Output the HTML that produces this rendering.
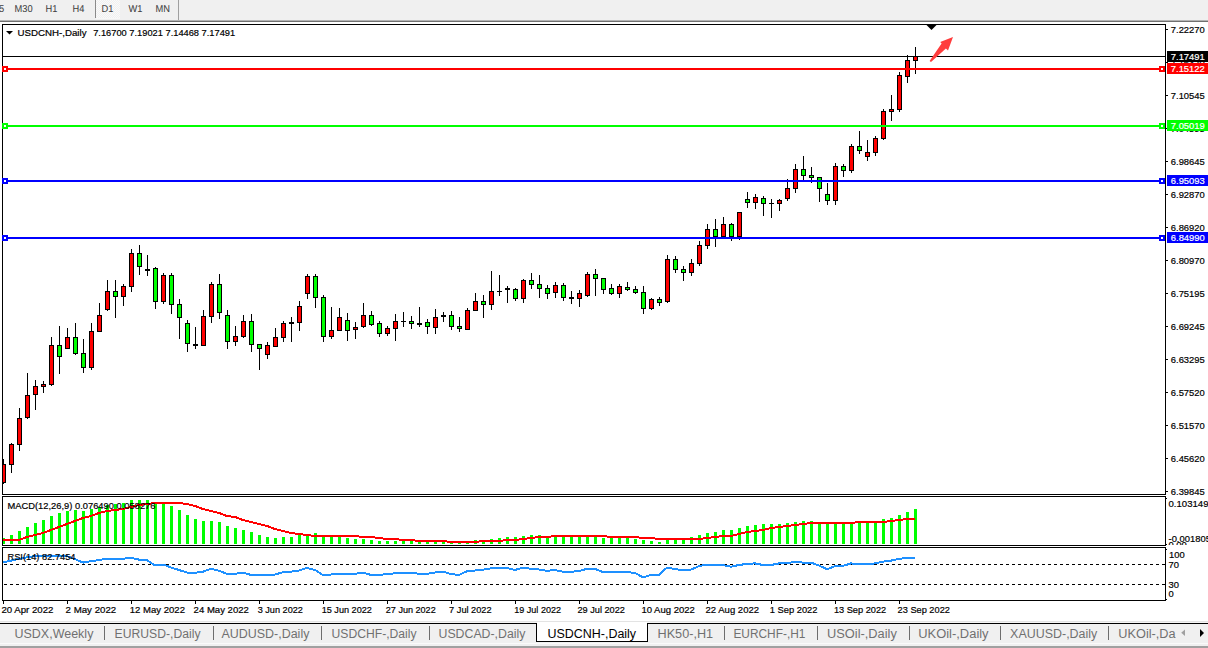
<!DOCTYPE html><html><head><meta charset="utf-8"><title>USDCNH-,Daily</title><style>
html,body{margin:0;padding:0;background:#fff;}
body{width:1208px;height:648px;overflow:hidden;position:relative;font-family:"Liberation Sans", sans-serif;}
svg{position:absolute;left:0;top:0;display:block;}
.t{font-family:"Liberation Sans", sans-serif;}
</style></head><body>
<svg width="1208" height="648" viewBox="0 0 1208 648">
<defs><pattern id="chk" width="2" height="2" patternUnits="userSpaceOnUse"><rect width="2" height="2" fill="#f0f0f0"/><rect width="1" height="1" fill="#fafafa"/><rect x="1" y="1" width="1" height="1" fill="#fafafa"/></pattern>
<clipPath id="cMain"><rect x="3" y="25" width="1162" height="469"/></clipPath>
<clipPath id="cMacd"><rect x="3" y="497" width="1162" height="47"/></clipPath>
<clipPath id="cRsi"><rect x="3" y="548" width="1162" height="52"/></clipPath>
</defs>
<rect x="0" y="0" width="1208" height="648" fill="#ffffff"/>
<g shape-rendering="crispEdges">
<rect x="0" y="0" width="1208" height="20" fill="#f0f0f0"/>
<rect x="96" y="0" width="24" height="18" fill="url(#chk)"/>
<rect x="96" y="18" width="24" height="1" fill="#f8f8f8"/>
<rect x="95" y="0" width="1" height="18" fill="#8a8a8a"/>
<rect x="178" y="0" width="1" height="20" fill="#a0a0a0"/>
<rect x="0" y="20" width="1208" height="1" fill="#b4b4b4"/>
<rect x="0" y="21" width="1208" height="1" fill="#707070"/>
</g>
<text class="t" x="-1.0" y="12.0" font-size="10" fill="#404040" text-rendering="geometricPrecision" stroke="#404040" stroke-width="0.05" textLength="5.17" lengthAdjust="spacingAndGlyphs">5</text>
<text class="t" x="14.5" y="12.0" font-size="10" fill="#404040" text-rendering="geometricPrecision" stroke="#404040" stroke-width="0.05" textLength="18.09" lengthAdjust="spacingAndGlyphs">M30</text>
<text class="t" x="45.5" y="12.0" font-size="10" fill="#404040" text-rendering="geometricPrecision" stroke="#404040" stroke-width="0.05" textLength="11.89" lengthAdjust="spacingAndGlyphs">H1</text>
<text class="t" x="72.5" y="12.0" font-size="10" fill="#404040" text-rendering="geometricPrecision" stroke="#404040" stroke-width="0.05" textLength="11.89" lengthAdjust="spacingAndGlyphs">H4</text>
<text class="t" x="101.5" y="12.0" font-size="10" fill="#404040" text-rendering="geometricPrecision" stroke="#404040" stroke-width="0.05" textLength="11.89" lengthAdjust="spacingAndGlyphs">D1</text>
<text class="t" x="128.5" y="12.0" font-size="10" fill="#404040" text-rendering="geometricPrecision" stroke="#404040" stroke-width="0.05" textLength="13.95" lengthAdjust="spacingAndGlyphs">W1</text>
<text class="t" x="155.5" y="12.0" font-size="10" fill="#404040" text-rendering="geometricPrecision" stroke="#404040" stroke-width="0.05" textLength="14.46" lengthAdjust="spacingAndGlyphs">MN</text>
<g shape-rendering="crispEdges">
<rect x="2.5" y="24.5" width="1163" height="470" fill="none" stroke="#000" stroke-width="1"/>
<rect x="2.5" y="496.5" width="1163" height="49" fill="none" stroke="#000" stroke-width="1"/>
<rect x="2.5" y="547.5" width="1163" height="53" fill="none" stroke="#000" stroke-width="1"/>
</g>
<g clip-path="url(#cMain)" shape-rendering="crispEdges">
<rect x="3" y="459" width="1" height="25" fill="#000"/>
<rect x="1" y="464" width="5" height="19" fill="#000"/>
<rect x="2" y="465" width="3" height="17" fill="#ff0000"/>
<rect x="11" y="443" width="1" height="30" fill="#000"/>
<rect x="9" y="444" width="5" height="21" fill="#000"/>
<rect x="10" y="445" width="3" height="19" fill="#ff0000"/>
<rect x="19" y="408" width="1" height="43" fill="#000"/>
<rect x="17" y="418" width="5" height="27" fill="#000"/>
<rect x="18" y="419" width="3" height="25" fill="#ff0000"/>
<rect x="27" y="373" width="1" height="46" fill="#000"/>
<rect x="25" y="395" width="5" height="23" fill="#000"/>
<rect x="26" y="396" width="3" height="21" fill="#ff0000"/>
<rect x="35" y="380" width="1" height="30" fill="#000"/>
<rect x="33" y="386" width="5" height="9" fill="#000"/>
<rect x="34" y="387" width="3" height="7" fill="#ff0000"/>
<rect x="43" y="381" width="1" height="12" fill="#000"/>
<rect x="41" y="384" width="5" height="3" fill="#000"/>
<rect x="42" y="385" width="3" height="1" fill="#ff0000"/>
<rect x="51" y="337" width="1" height="49" fill="#000"/>
<rect x="49" y="345" width="5" height="40" fill="#000"/>
<rect x="50" y="346" width="3" height="38" fill="#ff0000"/>
<rect x="59" y="326" width="1" height="48" fill="#000"/>
<rect x="57" y="345" width="5" height="12" fill="#000"/>
<rect x="58" y="346" width="3" height="10" fill="#00ff00"/>
<rect x="67" y="328" width="1" height="21" fill="#000"/>
<rect x="65" y="337" width="5" height="12" fill="#000"/>
<rect x="66" y="338" width="3" height="10" fill="#ff0000"/>
<rect x="75" y="323" width="1" height="32" fill="#000"/>
<rect x="73" y="337" width="5" height="17" fill="#000"/>
<rect x="74" y="338" width="3" height="15" fill="#00ff00"/>
<rect x="83" y="339" width="1" height="34" fill="#000"/>
<rect x="81" y="353" width="5" height="15" fill="#000"/>
<rect x="82" y="354" width="3" height="13" fill="#00ff00"/>
<rect x="91" y="323" width="1" height="47" fill="#000"/>
<rect x="89" y="331" width="5" height="37" fill="#000"/>
<rect x="90" y="332" width="3" height="35" fill="#ff0000"/>
<rect x="99" y="303" width="1" height="29" fill="#000"/>
<rect x="97" y="315" width="5" height="17" fill="#000"/>
<rect x="98" y="316" width="3" height="15" fill="#ff0000"/>
<rect x="107" y="280" width="1" height="31" fill="#000"/>
<rect x="105" y="291" width="5" height="19" fill="#000"/>
<rect x="106" y="292" width="3" height="17" fill="#ff0000"/>
<rect x="115" y="280" width="1" height="38" fill="#000"/>
<rect x="113" y="291" width="5" height="6" fill="#000"/>
<rect x="114" y="292" width="3" height="4" fill="#00ff00"/>
<rect x="123" y="284" width="1" height="22" fill="#000"/>
<rect x="121" y="286" width="5" height="11" fill="#000"/>
<rect x="122" y="287" width="3" height="9" fill="#ff0000"/>
<rect x="131" y="249" width="1" height="43" fill="#000"/>
<rect x="129" y="253" width="5" height="34" fill="#000"/>
<rect x="130" y="254" width="3" height="32" fill="#ff0000"/>
<rect x="139" y="245" width="1" height="30" fill="#000"/>
<rect x="137" y="253" width="5" height="14" fill="#000"/>
<rect x="138" y="254" width="3" height="12" fill="#00ff00"/>
<rect x="147" y="255" width="1" height="21" fill="#000"/>
<rect x="145" y="269" width="5" height="2" fill="#000"/>
<rect x="155" y="267" width="1" height="42" fill="#000"/>
<rect x="153" y="268" width="5" height="34" fill="#000"/>
<rect x="154" y="269" width="3" height="32" fill="#00ff00"/>
<rect x="163" y="273" width="1" height="31" fill="#000"/>
<rect x="161" y="275" width="5" height="27" fill="#000"/>
<rect x="162" y="276" width="3" height="25" fill="#ff0000"/>
<rect x="171" y="273" width="1" height="41" fill="#000"/>
<rect x="169" y="275" width="5" height="30" fill="#000"/>
<rect x="170" y="276" width="3" height="28" fill="#00ff00"/>
<rect x="179" y="299" width="1" height="40" fill="#000"/>
<rect x="177" y="304" width="5" height="14" fill="#000"/>
<rect x="178" y="305" width="3" height="12" fill="#00ff00"/>
<rect x="187" y="320" width="1" height="32" fill="#000"/>
<rect x="185" y="323" width="5" height="21" fill="#000"/>
<rect x="186" y="324" width="3" height="19" fill="#00ff00"/>
<rect x="195" y="327" width="1" height="22" fill="#000"/>
<rect x="193" y="344" width="5" height="2" fill="#000"/>
<rect x="203" y="310" width="1" height="36" fill="#000"/>
<rect x="201" y="316" width="5" height="30" fill="#000"/>
<rect x="202" y="317" width="3" height="28" fill="#ff0000"/>
<rect x="211" y="282" width="1" height="41" fill="#000"/>
<rect x="209" y="284" width="5" height="33" fill="#000"/>
<rect x="210" y="285" width="3" height="31" fill="#ff0000"/>
<rect x="219" y="274" width="1" height="45" fill="#000"/>
<rect x="217" y="284" width="5" height="29" fill="#000"/>
<rect x="218" y="285" width="3" height="27" fill="#00ff00"/>
<rect x="227" y="310" width="1" height="39" fill="#000"/>
<rect x="225" y="315" width="5" height="27" fill="#000"/>
<rect x="226" y="316" width="3" height="25" fill="#00ff00"/>
<rect x="235" y="326" width="1" height="20" fill="#000"/>
<rect x="233" y="336" width="5" height="6" fill="#000"/>
<rect x="234" y="337" width="3" height="4" fill="#ff0000"/>
<rect x="243" y="315" width="1" height="23" fill="#000"/>
<rect x="241" y="321" width="5" height="16" fill="#000"/>
<rect x="242" y="322" width="3" height="14" fill="#ff0000"/>
<rect x="251" y="314" width="1" height="38" fill="#000"/>
<rect x="249" y="321" width="5" height="24" fill="#000"/>
<rect x="250" y="322" width="3" height="22" fill="#00ff00"/>
<rect x="259" y="344" width="1" height="26" fill="#000"/>
<rect x="257" y="344" width="5" height="5" fill="#000"/>
<rect x="258" y="345" width="3" height="3" fill="#00ff00"/>
<rect x="267" y="342" width="1" height="17" fill="#000"/>
<rect x="265" y="345" width="5" height="10" fill="#000"/>
<rect x="266" y="346" width="3" height="8" fill="#ff0000"/>
<rect x="275" y="328" width="1" height="19" fill="#000"/>
<rect x="273" y="337" width="5" height="10" fill="#000"/>
<rect x="274" y="338" width="3" height="8" fill="#ff0000"/>
<rect x="283" y="321" width="1" height="21" fill="#000"/>
<rect x="281" y="323" width="5" height="15" fill="#000"/>
<rect x="282" y="324" width="3" height="13" fill="#ff0000"/>
<rect x="291" y="317" width="1" height="25" fill="#000"/>
<rect x="289" y="322" width="5" height="2" fill="#000"/>
<rect x="299" y="301" width="1" height="30" fill="#000"/>
<rect x="297" y="306" width="5" height="17" fill="#000"/>
<rect x="298" y="307" width="3" height="15" fill="#ff0000"/>
<rect x="307" y="274" width="1" height="25" fill="#000"/>
<rect x="305" y="276" width="5" height="18" fill="#000"/>
<rect x="306" y="277" width="3" height="16" fill="#ff0000"/>
<rect x="315" y="274" width="1" height="34" fill="#000"/>
<rect x="313" y="276" width="5" height="22" fill="#000"/>
<rect x="314" y="277" width="3" height="20" fill="#00ff00"/>
<rect x="323" y="295" width="1" height="47" fill="#000"/>
<rect x="321" y="297" width="5" height="40" fill="#000"/>
<rect x="322" y="298" width="3" height="38" fill="#00ff00"/>
<rect x="331" y="307" width="1" height="32" fill="#000"/>
<rect x="329" y="330" width="5" height="7" fill="#000"/>
<rect x="330" y="331" width="3" height="5" fill="#ff0000"/>
<rect x="339" y="308" width="1" height="23" fill="#000"/>
<rect x="337" y="317" width="5" height="14" fill="#000"/>
<rect x="338" y="318" width="3" height="12" fill="#ff0000"/>
<rect x="347" y="313" width="1" height="28" fill="#000"/>
<rect x="345" y="320" width="5" height="11" fill="#000"/>
<rect x="346" y="321" width="3" height="9" fill="#00ff00"/>
<rect x="355" y="322" width="1" height="17" fill="#000"/>
<rect x="353" y="327" width="5" height="3" fill="#000"/>
<rect x="354" y="328" width="3" height="1" fill="#ff0000"/>
<rect x="363" y="303" width="1" height="25" fill="#000"/>
<rect x="361" y="315" width="5" height="12" fill="#000"/>
<rect x="362" y="316" width="3" height="10" fill="#ff0000"/>
<rect x="371" y="311" width="1" height="15" fill="#000"/>
<rect x="369" y="315" width="5" height="10" fill="#000"/>
<rect x="370" y="316" width="3" height="8" fill="#00ff00"/>
<rect x="379" y="321" width="1" height="16" fill="#000"/>
<rect x="377" y="323" width="5" height="11" fill="#000"/>
<rect x="378" y="324" width="3" height="9" fill="#00ff00"/>
<rect x="387" y="326" width="1" height="10" fill="#000"/>
<rect x="385" y="328" width="5" height="6" fill="#000"/>
<rect x="386" y="329" width="3" height="4" fill="#ff0000"/>
<rect x="395" y="314" width="1" height="27" fill="#000"/>
<rect x="393" y="321" width="5" height="8" fill="#000"/>
<rect x="394" y="322" width="3" height="6" fill="#ff0000"/>
<rect x="403" y="312" width="1" height="15" fill="#000"/>
<rect x="401" y="321" width="5" height="1" fill="#000"/>
<rect x="411" y="316" width="1" height="13" fill="#000"/>
<rect x="409" y="321" width="5" height="3" fill="#000"/>
<rect x="410" y="322" width="3" height="1" fill="#00ff00"/>
<rect x="419" y="307" width="1" height="20" fill="#000"/>
<rect x="417" y="323" width="5" height="2" fill="#000"/>
<rect x="427" y="319" width="1" height="15" fill="#000"/>
<rect x="425" y="322" width="5" height="5" fill="#000"/>
<rect x="426" y="323" width="3" height="3" fill="#00ff00"/>
<rect x="435" y="309" width="1" height="25" fill="#000"/>
<rect x="433" y="317" width="5" height="11" fill="#000"/>
<rect x="434" y="318" width="3" height="9" fill="#ff0000"/>
<rect x="443" y="312" width="1" height="10" fill="#000"/>
<rect x="441" y="315" width="5" height="2" fill="#000"/>
<rect x="451" y="311" width="1" height="19" fill="#000"/>
<rect x="449" y="315" width="5" height="12" fill="#000"/>
<rect x="450" y="316" width="3" height="10" fill="#00ff00"/>
<rect x="459" y="317" width="1" height="15" fill="#000"/>
<rect x="457" y="326" width="5" height="3" fill="#000"/>
<rect x="458" y="327" width="3" height="1" fill="#00ff00"/>
<rect x="467" y="308" width="1" height="22" fill="#000"/>
<rect x="465" y="310" width="5" height="20" fill="#000"/>
<rect x="466" y="311" width="3" height="18" fill="#ff0000"/>
<rect x="475" y="293" width="1" height="18" fill="#000"/>
<rect x="473" y="301" width="5" height="10" fill="#000"/>
<rect x="474" y="302" width="3" height="8" fill="#ff0000"/>
<rect x="483" y="295" width="1" height="23" fill="#000"/>
<rect x="481" y="301" width="5" height="4" fill="#000"/>
<rect x="482" y="302" width="3" height="2" fill="#00ff00"/>
<rect x="491" y="271" width="1" height="39" fill="#000"/>
<rect x="489" y="291" width="5" height="14" fill="#000"/>
<rect x="490" y="292" width="3" height="12" fill="#ff0000"/>
<rect x="499" y="275" width="1" height="21" fill="#000"/>
<rect x="497" y="291" width="5" height="1" fill="#000"/>
<rect x="507" y="286" width="1" height="17" fill="#000"/>
<rect x="505" y="288" width="5" height="2" fill="#000"/>
<rect x="515" y="288" width="1" height="13" fill="#000"/>
<rect x="513" y="289" width="5" height="10" fill="#000"/>
<rect x="514" y="290" width="3" height="8" fill="#00ff00"/>
<rect x="523" y="279" width="1" height="24" fill="#000"/>
<rect x="521" y="280" width="5" height="19" fill="#000"/>
<rect x="522" y="281" width="3" height="17" fill="#ff0000"/>
<rect x="531" y="273" width="1" height="16" fill="#000"/>
<rect x="529" y="280" width="5" height="5" fill="#000"/>
<rect x="530" y="281" width="3" height="3" fill="#00ff00"/>
<rect x="539" y="275" width="1" height="23" fill="#000"/>
<rect x="537" y="284" width="5" height="5" fill="#000"/>
<rect x="538" y="285" width="3" height="3" fill="#00ff00"/>
<rect x="547" y="285" width="1" height="14" fill="#000"/>
<rect x="545" y="288" width="5" height="6" fill="#000"/>
<rect x="546" y="289" width="3" height="4" fill="#00ff00"/>
<rect x="555" y="282" width="1" height="16" fill="#000"/>
<rect x="553" y="285" width="5" height="8" fill="#000"/>
<rect x="554" y="286" width="3" height="6" fill="#ff0000"/>
<rect x="563" y="283" width="1" height="18" fill="#000"/>
<rect x="561" y="285" width="5" height="13" fill="#000"/>
<rect x="562" y="286" width="3" height="11" fill="#00ff00"/>
<rect x="571" y="291" width="1" height="13" fill="#000"/>
<rect x="569" y="297" width="5" height="2" fill="#000"/>
<rect x="579" y="290" width="1" height="17" fill="#000"/>
<rect x="577" y="293" width="5" height="6" fill="#000"/>
<rect x="578" y="294" width="3" height="4" fill="#ff0000"/>
<rect x="587" y="272" width="1" height="25" fill="#000"/>
<rect x="585" y="274" width="5" height="22" fill="#000"/>
<rect x="586" y="275" width="3" height="20" fill="#ff0000"/>
<rect x="595" y="269" width="1" height="27" fill="#000"/>
<rect x="593" y="274" width="5" height="5" fill="#000"/>
<rect x="594" y="275" width="3" height="3" fill="#00ff00"/>
<rect x="603" y="278" width="1" height="16" fill="#000"/>
<rect x="601" y="278" width="5" height="12" fill="#000"/>
<rect x="602" y="279" width="3" height="10" fill="#00ff00"/>
<rect x="611" y="284" width="1" height="11" fill="#000"/>
<rect x="609" y="288" width="5" height="6" fill="#000"/>
<rect x="610" y="289" width="3" height="4" fill="#00ff00"/>
<rect x="619" y="284" width="1" height="14" fill="#000"/>
<rect x="617" y="286" width="5" height="8" fill="#000"/>
<rect x="618" y="287" width="3" height="6" fill="#ff0000"/>
<rect x="627" y="282" width="1" height="9" fill="#000"/>
<rect x="625" y="287" width="5" height="3" fill="#000"/>
<rect x="626" y="288" width="3" height="1" fill="#00ff00"/>
<rect x="635" y="286" width="1" height="8" fill="#000"/>
<rect x="633" y="289" width="5" height="4" fill="#000"/>
<rect x="634" y="290" width="3" height="2" fill="#00ff00"/>
<rect x="643" y="286" width="1" height="28" fill="#000"/>
<rect x="641" y="292" width="5" height="17" fill="#000"/>
<rect x="642" y="293" width="3" height="15" fill="#00ff00"/>
<rect x="651" y="298" width="1" height="12" fill="#000"/>
<rect x="649" y="299" width="5" height="10" fill="#000"/>
<rect x="650" y="300" width="3" height="8" fill="#ff0000"/>
<rect x="659" y="297" width="1" height="9" fill="#000"/>
<rect x="657" y="299" width="5" height="4" fill="#000"/>
<rect x="658" y="300" width="3" height="2" fill="#00ff00"/>
<rect x="667" y="255" width="1" height="48" fill="#000"/>
<rect x="665" y="259" width="5" height="43" fill="#000"/>
<rect x="666" y="260" width="3" height="41" fill="#ff0000"/>
<rect x="675" y="256" width="1" height="17" fill="#000"/>
<rect x="673" y="259" width="5" height="11" fill="#000"/>
<rect x="674" y="260" width="3" height="9" fill="#00ff00"/>
<rect x="683" y="266" width="1" height="15" fill="#000"/>
<rect x="681" y="269" width="5" height="4" fill="#000"/>
<rect x="682" y="270" width="3" height="2" fill="#00ff00"/>
<rect x="691" y="259" width="1" height="17" fill="#000"/>
<rect x="689" y="263" width="5" height="10" fill="#000"/>
<rect x="690" y="264" width="3" height="8" fill="#ff0000"/>
<rect x="699" y="241" width="1" height="25" fill="#000"/>
<rect x="697" y="245" width="5" height="19" fill="#000"/>
<rect x="698" y="246" width="3" height="17" fill="#ff0000"/>
<rect x="707" y="224" width="1" height="25" fill="#000"/>
<rect x="705" y="229" width="5" height="17" fill="#000"/>
<rect x="706" y="230" width="3" height="15" fill="#ff0000"/>
<rect x="715" y="219" width="1" height="28" fill="#000"/>
<rect x="713" y="229" width="5" height="8" fill="#000"/>
<rect x="714" y="230" width="3" height="6" fill="#00ff00"/>
<rect x="723" y="217" width="1" height="20" fill="#000"/>
<rect x="721" y="224" width="5" height="13" fill="#000"/>
<rect x="722" y="225" width="3" height="11" fill="#ff0000"/>
<rect x="731" y="223" width="1" height="18" fill="#000"/>
<rect x="729" y="224" width="5" height="13" fill="#000"/>
<rect x="730" y="225" width="3" height="11" fill="#00ff00"/>
<rect x="739" y="212" width="1" height="28" fill="#000"/>
<rect x="737" y="212" width="5" height="25" fill="#000"/>
<rect x="738" y="213" width="3" height="23" fill="#ff0000"/>
<rect x="747" y="192" width="1" height="16" fill="#000"/>
<rect x="745" y="199" width="5" height="4" fill="#000"/>
<rect x="746" y="200" width="3" height="2" fill="#00ff00"/>
<rect x="755" y="194" width="1" height="15" fill="#000"/>
<rect x="753" y="197" width="5" height="6" fill="#000"/>
<rect x="754" y="198" width="3" height="4" fill="#ff0000"/>
<rect x="763" y="196" width="1" height="20" fill="#000"/>
<rect x="761" y="198" width="5" height="6" fill="#000"/>
<rect x="762" y="199" width="3" height="4" fill="#00ff00"/>
<rect x="771" y="199" width="1" height="19" fill="#000"/>
<rect x="769" y="203" width="5" height="1" fill="#000"/>
<rect x="779" y="199" width="1" height="12" fill="#000"/>
<rect x="777" y="200" width="5" height="4" fill="#000"/>
<rect x="778" y="201" width="3" height="2" fill="#ff0000"/>
<rect x="787" y="179" width="1" height="22" fill="#000"/>
<rect x="785" y="188" width="5" height="11" fill="#000"/>
<rect x="786" y="189" width="3" height="9" fill="#ff0000"/>
<rect x="795" y="164" width="1" height="29" fill="#000"/>
<rect x="793" y="169" width="5" height="20" fill="#000"/>
<rect x="794" y="170" width="3" height="18" fill="#ff0000"/>
<rect x="803" y="156" width="1" height="25" fill="#000"/>
<rect x="801" y="169" width="5" height="7" fill="#000"/>
<rect x="802" y="170" width="3" height="5" fill="#00ff00"/>
<rect x="811" y="167" width="1" height="16" fill="#000"/>
<rect x="809" y="175" width="5" height="3" fill="#000"/>
<rect x="810" y="176" width="3" height="1" fill="#00ff00"/>
<rect x="819" y="177" width="1" height="25" fill="#000"/>
<rect x="817" y="177" width="5" height="12" fill="#000"/>
<rect x="818" y="178" width="3" height="10" fill="#00ff00"/>
<rect x="827" y="183" width="1" height="22" fill="#000"/>
<rect x="825" y="194" width="5" height="7" fill="#000"/>
<rect x="826" y="195" width="3" height="5" fill="#00ff00"/>
<rect x="835" y="163" width="1" height="42" fill="#000"/>
<rect x="833" y="166" width="5" height="35" fill="#000"/>
<rect x="834" y="167" width="3" height="33" fill="#ff0000"/>
<rect x="843" y="164" width="1" height="13" fill="#000"/>
<rect x="841" y="166" width="5" height="5" fill="#000"/>
<rect x="842" y="167" width="3" height="3" fill="#00ff00"/>
<rect x="851" y="144" width="1" height="29" fill="#000"/>
<rect x="849" y="146" width="5" height="25" fill="#000"/>
<rect x="850" y="147" width="3" height="23" fill="#ff0000"/>
<rect x="859" y="131" width="1" height="23" fill="#000"/>
<rect x="857" y="146" width="5" height="5" fill="#000"/>
<rect x="858" y="147" width="3" height="3" fill="#00ff00"/>
<rect x="867" y="140" width="1" height="21" fill="#000"/>
<rect x="865" y="152" width="5" height="5" fill="#000"/>
<rect x="866" y="153" width="3" height="3" fill="#ff0000"/>
<rect x="875" y="136" width="1" height="20" fill="#000"/>
<rect x="873" y="138" width="5" height="15" fill="#000"/>
<rect x="874" y="139" width="3" height="13" fill="#ff0000"/>
<rect x="883" y="109" width="1" height="31" fill="#000"/>
<rect x="881" y="111" width="5" height="28" fill="#000"/>
<rect x="882" y="112" width="3" height="26" fill="#ff0000"/>
<rect x="891" y="95" width="1" height="26" fill="#000"/>
<rect x="889" y="109" width="5" height="3" fill="#000"/>
<rect x="890" y="110" width="3" height="1" fill="#ff0000"/>
<rect x="899" y="72" width="1" height="40" fill="#000"/>
<rect x="897" y="75" width="5" height="35" fill="#000"/>
<rect x="898" y="76" width="3" height="33" fill="#ff0000"/>
<rect x="907" y="55" width="1" height="28" fill="#000"/>
<rect x="905" y="60" width="5" height="17" fill="#000"/>
<rect x="906" y="61" width="3" height="15" fill="#ff0000"/>
<rect x="915" y="47" width="1" height="27" fill="#000"/>
<rect x="913" y="56" width="5" height="5" fill="#000"/>
<rect x="914" y="57" width="3" height="3" fill="#ff0000"/>
<rect x="3" y="56" width="1162" height="1" fill="#000"/>
<rect x="3" y="68" width="1162" height="2" fill="#ff0000"/>
<rect x="3" y="125" width="1162" height="2" fill="#00ff00"/>
<rect x="3" y="180" width="1162" height="2" fill="#0000ff"/>
<rect x="3" y="237" width="1162" height="2" fill="#0000ff"/>
</g>
<g shape-rendering="crispEdges">
<rect x="2" y="66" width="6" height="6" fill="#ff0000"/>
<rect x="4" y="68" width="2" height="2" fill="#fff"/>
<rect x="1159" y="66" width="6" height="6" fill="#ff0000"/>
<rect x="1161" y="68" width="2" height="2" fill="#fff"/>
<rect x="2" y="123" width="6" height="6" fill="#00ff00"/>
<rect x="4" y="125" width="2" height="2" fill="#fff"/>
<rect x="1159" y="123" width="6" height="6" fill="#00ff00"/>
<rect x="1161" y="125" width="2" height="2" fill="#fff"/>
<rect x="2" y="178" width="6" height="6" fill="#0000ff"/>
<rect x="4" y="180" width="2" height="2" fill="#fff"/>
<rect x="1159" y="178" width="6" height="6" fill="#0000ff"/>
<rect x="1161" y="180" width="2" height="2" fill="#fff"/>
<rect x="2" y="235" width="6" height="6" fill="#0000ff"/>
<rect x="4" y="237" width="2" height="2" fill="#fff"/>
<rect x="1159" y="235" width="6" height="6" fill="#0000ff"/>
<rect x="1161" y="237" width="2" height="2" fill="#fff"/>
</g>
<path d="M926.5 25 L936.5 25 L931.5 30 Z" fill="#000"/>
<path d="M929.6 61.0 L941.6 43.6 L940.2 41.9 L953 37.1 L948 50.4 L945.9 48.5 L931.0 62.0 Z" fill="#ff3c3c"/>
<path d="M6 31 L13 31 L9.5 34.5 Z" fill="#000"/>
<text class="t" x="17.5" y="36.0" font-size="9.8" fill="#000" stroke="#000" stroke-width="0.2" textLength="69.00" lengthAdjust="spacingAndGlyphs">USDCNH-,Daily</text>
<text class="t" x="93.2" y="36.0" font-size="9.8" fill="#000" stroke="#000" stroke-width="0.2" textLength="142.00" lengthAdjust="spacingAndGlyphs">7.16700 7.19021 7.14468 7.17491</text>
<g clip-path="url(#cMacd)" shape-rendering="crispEdges">
<rect x="2" y="538" width="3" height="6" fill="#00ff00"/>
<rect x="10" y="535" width="3" height="9" fill="#00ff00"/>
<rect x="18" y="531" width="3" height="13" fill="#00ff00"/>
<rect x="26" y="527" width="3" height="17" fill="#00ff00"/>
<rect x="34" y="523" width="3" height="21" fill="#00ff00"/>
<rect x="42" y="520" width="3" height="24" fill="#00ff00"/>
<rect x="50" y="516" width="3" height="28" fill="#00ff00"/>
<rect x="58" y="513" width="3" height="31" fill="#00ff00"/>
<rect x="66" y="511" width="3" height="33" fill="#00ff00"/>
<rect x="74" y="510" width="3" height="34" fill="#00ff00"/>
<rect x="82" y="511" width="3" height="33" fill="#00ff00"/>
<rect x="90" y="509" width="3" height="35" fill="#00ff00"/>
<rect x="98" y="507" width="3" height="37" fill="#00ff00"/>
<rect x="106" y="505" width="3" height="39" fill="#00ff00"/>
<rect x="114" y="504" width="3" height="40" fill="#00ff00"/>
<rect x="122" y="503" width="3" height="41" fill="#00ff00"/>
<rect x="130" y="500" width="3" height="44" fill="#00ff00"/>
<rect x="138" y="500" width="3" height="44" fill="#00ff00"/>
<rect x="146" y="500" width="3" height="44" fill="#00ff00"/>
<rect x="154" y="503" width="3" height="41" fill="#00ff00"/>
<rect x="162" y="504" width="3" height="40" fill="#00ff00"/>
<rect x="170" y="506" width="3" height="38" fill="#00ff00"/>
<rect x="178" y="510" width="3" height="34" fill="#00ff00"/>
<rect x="186" y="515" width="3" height="29" fill="#00ff00"/>
<rect x="194" y="519" width="3" height="25" fill="#00ff00"/>
<rect x="202" y="521" width="3" height="23" fill="#00ff00"/>
<rect x="210" y="521" width="3" height="23" fill="#00ff00"/>
<rect x="218" y="522" width="3" height="22" fill="#00ff00"/>
<rect x="226" y="526" width="3" height="18" fill="#00ff00"/>
<rect x="234" y="528" width="3" height="16" fill="#00ff00"/>
<rect x="242" y="530" width="3" height="14" fill="#00ff00"/>
<rect x="250" y="532" width="3" height="12" fill="#00ff00"/>
<rect x="258" y="535" width="3" height="9" fill="#00ff00"/>
<rect x="266" y="537" width="3" height="7" fill="#00ff00"/>
<rect x="274" y="538" width="3" height="6" fill="#00ff00"/>
<rect x="282" y="537" width="3" height="7" fill="#00ff00"/>
<rect x="290" y="537" width="3" height="7" fill="#00ff00"/>
<rect x="298" y="535" width="3" height="9" fill="#00ff00"/>
<rect x="306" y="534" width="3" height="10" fill="#00ff00"/>
<rect x="314" y="533" width="3" height="11" fill="#00ff00"/>
<rect x="322" y="537" width="3" height="7" fill="#00ff00"/>
<rect x="330" y="537" width="3" height="7" fill="#00ff00"/>
<rect x="338" y="537" width="3" height="7" fill="#00ff00"/>
<rect x="346" y="538" width="3" height="6" fill="#00ff00"/>
<rect x="354" y="539" width="3" height="5" fill="#00ff00"/>
<rect x="362" y="539" width="3" height="5" fill="#00ff00"/>
<rect x="370" y="540" width="3" height="4" fill="#00ff00"/>
<rect x="378" y="541" width="3" height="3" fill="#00ff00"/>
<rect x="386" y="541" width="3" height="3" fill="#00ff00"/>
<rect x="394" y="541" width="3" height="3" fill="#00ff00"/>
<rect x="402" y="541" width="3" height="3" fill="#00ff00"/>
<rect x="410" y="541" width="3" height="3" fill="#00ff00"/>
<rect x="418" y="542" width="3" height="2" fill="#00ff00"/>
<rect x="426" y="542" width="3" height="2" fill="#00ff00"/>
<rect x="434" y="542" width="3" height="2" fill="#00ff00"/>
<rect x="442" y="542" width="3" height="2" fill="#00ff00"/>
<rect x="450" y="542" width="3" height="2" fill="#00ff00"/>
<rect x="458" y="542" width="3" height="2" fill="#00ff00"/>
<rect x="466" y="542" width="3" height="2" fill="#00ff00"/>
<rect x="474" y="540" width="3" height="4" fill="#00ff00"/>
<rect x="482" y="540" width="3" height="4" fill="#00ff00"/>
<rect x="490" y="539" width="3" height="5" fill="#00ff00"/>
<rect x="498" y="538" width="3" height="6" fill="#00ff00"/>
<rect x="506" y="537" width="3" height="7" fill="#00ff00"/>
<rect x="514" y="537" width="3" height="7" fill="#00ff00"/>
<rect x="522" y="536" width="3" height="8" fill="#00ff00"/>
<rect x="530" y="535" width="3" height="9" fill="#00ff00"/>
<rect x="538" y="535" width="3" height="9" fill="#00ff00"/>
<rect x="546" y="537" width="3" height="7" fill="#00ff00"/>
<rect x="554" y="537" width="3" height="7" fill="#00ff00"/>
<rect x="562" y="537" width="3" height="7" fill="#00ff00"/>
<rect x="570" y="537" width="3" height="7" fill="#00ff00"/>
<rect x="578" y="537" width="3" height="7" fill="#00ff00"/>
<rect x="586" y="537" width="3" height="7" fill="#00ff00"/>
<rect x="594" y="537" width="3" height="7" fill="#00ff00"/>
<rect x="602" y="538" width="3" height="6" fill="#00ff00"/>
<rect x="610" y="538" width="3" height="6" fill="#00ff00"/>
<rect x="618" y="538" width="3" height="6" fill="#00ff00"/>
<rect x="626" y="538" width="3" height="6" fill="#00ff00"/>
<rect x="634" y="539" width="3" height="5" fill="#00ff00"/>
<rect x="642" y="540" width="3" height="4" fill="#00ff00"/>
<rect x="650" y="541" width="3" height="3" fill="#00ff00"/>
<rect x="658" y="542" width="3" height="2" fill="#00ff00"/>
<rect x="666" y="540" width="3" height="4" fill="#00ff00"/>
<rect x="674" y="540" width="3" height="4" fill="#00ff00"/>
<rect x="682" y="540" width="3" height="4" fill="#00ff00"/>
<rect x="690" y="537" width="3" height="7" fill="#00ff00"/>
<rect x="698" y="535" width="3" height="9" fill="#00ff00"/>
<rect x="706" y="533" width="3" height="11" fill="#00ff00"/>
<rect x="714" y="532" width="3" height="12" fill="#00ff00"/>
<rect x="722" y="530" width="3" height="14" fill="#00ff00"/>
<rect x="730" y="530" width="3" height="14" fill="#00ff00"/>
<rect x="738" y="528" width="3" height="16" fill="#00ff00"/>
<rect x="746" y="526" width="3" height="18" fill="#00ff00"/>
<rect x="754" y="525" width="3" height="19" fill="#00ff00"/>
<rect x="762" y="524" width="3" height="20" fill="#00ff00"/>
<rect x="770" y="524" width="3" height="20" fill="#00ff00"/>
<rect x="778" y="524" width="3" height="20" fill="#00ff00"/>
<rect x="786" y="523" width="3" height="21" fill="#00ff00"/>
<rect x="794" y="522" width="3" height="22" fill="#00ff00"/>
<rect x="802" y="521" width="3" height="23" fill="#00ff00"/>
<rect x="810" y="521" width="3" height="23" fill="#00ff00"/>
<rect x="818" y="523" width="3" height="21" fill="#00ff00"/>
<rect x="826" y="523" width="3" height="21" fill="#00ff00"/>
<rect x="834" y="523" width="3" height="21" fill="#00ff00"/>
<rect x="842" y="523" width="3" height="21" fill="#00ff00"/>
<rect x="850" y="523" width="3" height="21" fill="#00ff00"/>
<rect x="858" y="523" width="3" height="21" fill="#00ff00"/>
<rect x="866" y="523" width="3" height="21" fill="#00ff00"/>
<rect x="874" y="523" width="3" height="21" fill="#00ff00"/>
<rect x="882" y="519" width="3" height="25" fill="#00ff00"/>
<rect x="890" y="518" width="3" height="26" fill="#00ff00"/>
<rect x="898" y="515" width="3" height="29" fill="#00ff00"/>
<rect x="906" y="512" width="3" height="32" fill="#00ff00"/>
<rect x="914" y="509" width="3" height="35" fill="#00ff00"/>
</g>
<g clip-path="url(#cMacd)"><polyline points="3,540.0 11,540.0 19,540.0 27,537.0 35,535.0 43,533.0 51,530.0 59,527.0 67,524.0 75,521.0 83,518.0 91,516.0 99,513.0 107,511.0 115,510.0 123,509.0 131,507.0 139,505.0 147,504.0 155,503.0 163,503.0 171,503.0 179,503.0 187,504.0 195,506.0 203,509.0 211,511.0 219,513.0 227,516.0 235,517.0 243,520.0 251,522.0 259,524.0 267,526.0 275,529.0 283,531.0 291,533.0 299,534.0 307,535.0 315,536.0 323,536.0 331,536.0 339,536.0 347,536.0 355,536.0 363,537.0 371,537.0 379,538.0 387,539.0 395,539.0 403,540.0 411,540.0 419,541.0 427,541.0 435,541.0 443,541.0 451,542.0 459,542.0 467,542.0 475,542.0 483,541.0 491,541.0 499,541.0 507,540.0 515,540.0 523,539.0 531,538.0 539,537.0 547,537.0 555,536.0 563,536.0 571,536.0 579,536.0 587,536.0 595,536.0 603,536.0 611,537.0 619,537.0 627,537.0 635,537.0 643,538.0 651,538.0 659,539.0 667,539.0 675,539.0 683,539.0 691,539.0 699,539.0 707,538.0 715,537.0 723,536.0 731,536.0 739,534.0 747,532.0 755,531.0 763,530.0 771,528.0 779,527.0 787,526.0 795,525.0 803,524.0 811,523.0 819,523.0 827,523.0 835,523.0 843,523.0 851,523.0 859,522.0 867,522.0 875,522.0 883,522.0 891,521.0 899,520.0 907,519.0 915,519.0" fill="none" stroke="#ff0000" stroke-width="2" shape-rendering="crispEdges"/></g>
<text class="t" x="7.5" y="509.0" font-size="9.8" fill="#000" stroke="#000" stroke-width="0.2" textLength="148.00" lengthAdjust="spacingAndGlyphs">MACD(12,26,9) 0.076490 0.058276</text>
<g clip-path="url(#cRsi)" shape-rendering="crispEdges">
<line x1="4" y1="564.5" x2="1165" y2="564.5" stroke="#000" stroke-width="1" stroke-dasharray="3 3"/>
<line x1="4" y1="584.5" x2="1165" y2="584.5" stroke="#000" stroke-width="1" stroke-dasharray="3 3"/>
</g>
<g clip-path="url(#cRsi)"><polyline points="3,562.6 11,560.6 19,558.9 27,557.3 35,556.0 43,555.6 51,555.6 59,555.6 67,556.0 75,559.2 83,562.6 91,561.2 99,560.1 107,558.7 115,558.7 123,558.7 131,557.9 139,559.6 147,560.1 155,565.5 163,564.5 171,567.5 179,570.0 187,572.5 195,572.8 203,571.7 211,568.8 219,570.8 227,573.8 235,573.8 243,572.5 251,575.0 259,575.0 267,575.0 275,574.5 283,572.2 291,571.7 299,570.5 307,567.9 315,570.0 323,575.0 331,574.5 339,573.8 347,573.8 355,573.8 363,572.5 371,575.0 379,575.0 387,574.1 395,573.3 403,572.5 411,572.8 419,573.8 427,573.8 435,572.5 443,571.7 451,574.1 459,575.0 467,571.2 475,570.5 483,569.7 491,568.4 499,567.5 507,567.9 515,570.0 523,567.5 531,568.8 539,569.5 547,570.8 555,570.0 563,571.7 571,571.7 579,571.2 587,568.7 595,568.8 603,572.2 611,572.5 619,571.7 627,572.2 635,572.8 643,577.4 651,575.0 659,575.0 667,567.5 675,569.2 683,570.0 691,569.5 699,566.2 707,564.5 715,565.5 723,565.0 731,566.7 739,565.0 747,563.9 755,563.4 763,565.0 771,565.0 779,563.4 787,563.4 795,561.7 803,562.6 811,562.6 819,565.5 827,569.2 835,566.2 843,565.9 851,563.4 859,564.2 867,564.5 875,563.4 883,561.7 891,560.6 899,558.9 907,557.9 915,557.9" fill="none" stroke="#1e90ff" stroke-width="2" shape-rendering="crispEdges"/></g>
<text class="t" x="7.5" y="560.0" font-size="9.8" fill="#000" stroke="#000" stroke-width="0.2" textLength="68.00" lengthAdjust="spacingAndGlyphs">RSI(14) 82.7454</text>
<g shape-rendering="crispEdges">
<rect x="1166" y="29" width="2" height="1" fill="#000"/>
<rect x="1166" y="62" width="2" height="1" fill="#000"/>
<rect x="1166" y="95" width="2" height="1" fill="#000"/>
<rect x="1166" y="128" width="2" height="1" fill="#000"/>
<rect x="1166" y="161" width="2" height="1" fill="#000"/>
<rect x="1166" y="194" width="2" height="1" fill="#000"/>
<rect x="1166" y="227" width="2" height="1" fill="#000"/>
<rect x="1166" y="260" width="2" height="1" fill="#000"/>
<rect x="1166" y="293" width="2" height="1" fill="#000"/>
<rect x="1166" y="326" width="2" height="1" fill="#000"/>
<rect x="1166" y="359" width="2" height="1" fill="#000"/>
<rect x="1166" y="392" width="2" height="1" fill="#000"/>
<rect x="1166" y="425" width="2" height="1" fill="#000"/>
<rect x="1166" y="458" width="2" height="1" fill="#000"/>
<rect x="1166" y="491" width="2" height="1" fill="#000"/>
<rect x="1166" y="498" width="1" height="1" fill="#000"/>
<rect x="1166" y="544" width="1" height="1" fill="#000"/>
<rect x="1166" y="549" width="1" height="1" fill="#000"/>
<rect x="1166" y="599" width="1" height="1" fill="#000"/>
</g>
<text class="t" x="1170.8" y="33.0" font-size="9.8" fill="#000" stroke="#000" stroke-width="0.2" textLength="34.00" lengthAdjust="spacingAndGlyphs">7.22270</text>
<text class="t" x="1170.8" y="66.0" font-size="9.8" fill="#000" stroke="#000" stroke-width="0.2" textLength="34.00" lengthAdjust="spacingAndGlyphs">7.16320</text>
<text class="t" x="1170.8" y="99.0" font-size="9.8" fill="#000" stroke="#000" stroke-width="0.2" textLength="34.00" lengthAdjust="spacingAndGlyphs">7.10545</text>
<text class="t" x="1170.8" y="132.0" font-size="9.8" fill="#000" stroke="#000" stroke-width="0.2" textLength="34.00" lengthAdjust="spacingAndGlyphs">7.04595</text>
<text class="t" x="1170.8" y="165.0" font-size="9.8" fill="#000" stroke="#000" stroke-width="0.2" textLength="34.00" lengthAdjust="spacingAndGlyphs">6.98645</text>
<text class="t" x="1170.8" y="198.0" font-size="9.8" fill="#000" stroke="#000" stroke-width="0.2" textLength="34.00" lengthAdjust="spacingAndGlyphs">6.92870</text>
<text class="t" x="1170.8" y="231.0" font-size="9.8" fill="#000" stroke="#000" stroke-width="0.2" textLength="34.00" lengthAdjust="spacingAndGlyphs">6.86920</text>
<text class="t" x="1170.8" y="264.0" font-size="9.8" fill="#000" stroke="#000" stroke-width="0.2" textLength="34.00" lengthAdjust="spacingAndGlyphs">6.80970</text>
<text class="t" x="1170.8" y="297.0" font-size="9.8" fill="#000" stroke="#000" stroke-width="0.2" textLength="34.00" lengthAdjust="spacingAndGlyphs">6.75195</text>
<text class="t" x="1170.8" y="330.0" font-size="9.8" fill="#000" stroke="#000" stroke-width="0.2" textLength="34.00" lengthAdjust="spacingAndGlyphs">6.69245</text>
<text class="t" x="1170.8" y="363.0" font-size="9.8" fill="#000" stroke="#000" stroke-width="0.2" textLength="34.00" lengthAdjust="spacingAndGlyphs">6.63295</text>
<text class="t" x="1170.8" y="396.0" font-size="9.8" fill="#000" stroke="#000" stroke-width="0.2" textLength="34.00" lengthAdjust="spacingAndGlyphs">6.57520</text>
<text class="t" x="1170.8" y="429.0" font-size="9.8" fill="#000" stroke="#000" stroke-width="0.2" textLength="34.00" lengthAdjust="spacingAndGlyphs">6.51570</text>
<text class="t" x="1170.8" y="462.0" font-size="9.8" fill="#000" stroke="#000" stroke-width="0.2" textLength="34.00" lengthAdjust="spacingAndGlyphs">6.45620</text>
<text class="t" x="1170.8" y="495.0" font-size="9.8" fill="#000" stroke="#000" stroke-width="0.2" textLength="34.00" lengthAdjust="spacingAndGlyphs">6.39845</text>
<clipPath id="cz"><rect x="1166" y="541" width="42" height="4"/></clipPath>
<text class="t" x="1168.5" y="548.0" font-size="9.8" fill="#000" clip-path="url(#cz)" stroke="#000" stroke-width="0.2" textLength="18.31" lengthAdjust="spacingAndGlyphs">0.00</text>
<text class="t" x="1168.5" y="507.0" font-size="9.8" fill="#000" stroke="#000" stroke-width="0.2" textLength="40.00" lengthAdjust="spacingAndGlyphs">0.103149</text>
<text class="t" x="1168.5" y="542.0" font-size="9.8" fill="#000" stroke="#000" stroke-width="0.2" textLength="42.37" lengthAdjust="spacingAndGlyphs">-0.001805</text>
<text class="t" x="1169.0" y="558.0" font-size="9.8" fill="#000" stroke="#000" stroke-width="0.2" textLength="15.70" lengthAdjust="spacingAndGlyphs">100</text>
<text class="t" x="1168.5" y="568.0" font-size="9.8" fill="#000" stroke="#000" stroke-width="0.2" textLength="10.46" lengthAdjust="spacingAndGlyphs">70</text>
<text class="t" x="1168.5" y="588.0" font-size="9.8" fill="#000" stroke="#000" stroke-width="0.2" textLength="10.46" lengthAdjust="spacingAndGlyphs">30</text>
<text class="t" x="1168.5" y="597.0" font-size="9.8" fill="#000" stroke="#000" stroke-width="0.2" textLength="5.23" lengthAdjust="spacingAndGlyphs">0</text>
<rect x="1167" y="51" width="41" height="11" fill="#000000" shape-rendering="crispEdges"/>
<text class="t" x="1170.8" y="60.0" font-size="9.8" fill="#fff" stroke="#fff" stroke-width="0.2" textLength="34.00" lengthAdjust="spacingAndGlyphs">7.17491</text>
<rect x="1167" y="63" width="41" height="11" fill="#ff0000" shape-rendering="crispEdges"/>
<text class="t" x="1170.8" y="72.0" font-size="9.8" fill="#fff" stroke="#fff" stroke-width="0.2" textLength="34.00" lengthAdjust="spacingAndGlyphs">7.15122</text>
<rect x="1167" y="120" width="41" height="11" fill="#00ff00" shape-rendering="crispEdges"/>
<text class="t" x="1170.8" y="129.0" font-size="9.8" fill="#fff" stroke="#fff" stroke-width="0.2" textLength="34.00" lengthAdjust="spacingAndGlyphs">7.05019</text>
<rect x="1167" y="175" width="41" height="11" fill="#0000ff" shape-rendering="crispEdges"/>
<text class="t" x="1170.8" y="184.0" font-size="9.8" fill="#fff" stroke="#fff" stroke-width="0.2" textLength="34.00" lengthAdjust="spacingAndGlyphs">6.95093</text>
<rect x="1167" y="232" width="41" height="11" fill="#0000ff" shape-rendering="crispEdges"/>
<text class="t" x="1170.8" y="241.0" font-size="9.8" fill="#fff" stroke="#fff" stroke-width="0.2" textLength="34.00" lengthAdjust="spacingAndGlyphs">6.84990</text>
<g shape-rendering="crispEdges">
<rect x="3" y="601" width="1" height="3" fill="#000"/>
<rect x="67" y="601" width="1" height="3" fill="#000"/>
<rect x="131" y="601" width="1" height="3" fill="#000"/>
<rect x="195" y="601" width="1" height="3" fill="#000"/>
<rect x="259" y="601" width="1" height="3" fill="#000"/>
<rect x="323" y="601" width="1" height="3" fill="#000"/>
<rect x="387" y="601" width="1" height="3" fill="#000"/>
<rect x="451" y="601" width="1" height="3" fill="#000"/>
<rect x="515" y="601" width="1" height="3" fill="#000"/>
<rect x="579" y="601" width="1" height="3" fill="#000"/>
<rect x="643" y="601" width="1" height="3" fill="#000"/>
<rect x="707" y="601" width="1" height="3" fill="#000"/>
<rect x="771" y="601" width="1" height="3" fill="#000"/>
<rect x="835" y="601" width="1" height="3" fill="#000"/>
<rect x="899" y="601" width="1" height="3" fill="#000"/>
</g>
<text class="t" x="1.4" y="613.0" font-size="9.8" fill="#000" stroke="#000" stroke-width="0.2" textLength="52.00" lengthAdjust="spacingAndGlyphs">20 Apr 2022</text>
<text class="t" x="65.6" y="613.0" font-size="9.8" fill="#000" stroke="#000" stroke-width="0.2" textLength="50.60" lengthAdjust="spacingAndGlyphs">2 May 2022</text>
<text class="t" x="129.7" y="613.0" font-size="9.8" fill="#000" stroke="#000" stroke-width="0.2" textLength="55.30" lengthAdjust="spacingAndGlyphs">12 May 2022</text>
<text class="t" x="193.6" y="613.0" font-size="9.8" fill="#000" stroke="#000" stroke-width="0.2" textLength="55.30" lengthAdjust="spacingAndGlyphs">24 May 2022</text>
<text class="t" x="257.7" y="613.0" font-size="9.8" fill="#000" stroke="#000" stroke-width="0.2" textLength="45.20" lengthAdjust="spacingAndGlyphs">3 Jun 2022</text>
<text class="t" x="321.7" y="613.0" font-size="9.8" fill="#000" stroke="#000" stroke-width="0.2" textLength="50.20" lengthAdjust="spacingAndGlyphs">15 Jun 2022</text>
<text class="t" x="385.8" y="613.0" font-size="9.8" fill="#000" stroke="#000" stroke-width="0.2" textLength="49.90" lengthAdjust="spacingAndGlyphs">27 Jun 2022</text>
<text class="t" x="449.1" y="613.0" font-size="9.8" fill="#000" stroke="#000" stroke-width="0.2" textLength="42.50" lengthAdjust="spacingAndGlyphs">7 Jul 2022</text>
<text class="t" x="514.2" y="613.0" font-size="9.8" fill="#000" stroke="#000" stroke-width="0.2" textLength="46.90" lengthAdjust="spacingAndGlyphs">19 Jul 2022</text>
<text class="t" x="577.4" y="613.0" font-size="9.8" fill="#000" stroke="#000" stroke-width="0.2" textLength="47.60" lengthAdjust="spacingAndGlyphs">29 Jul 2022</text>
<text class="t" x="641.4" y="613.0" font-size="9.8" fill="#000" stroke="#000" stroke-width="0.2" textLength="53.50" lengthAdjust="spacingAndGlyphs">10 Aug 2022</text>
<text class="t" x="705.5" y="613.0" font-size="9.8" fill="#000" stroke="#000" stroke-width="0.2" textLength="53.60" lengthAdjust="spacingAndGlyphs">22 Aug 2022</text>
<text class="t" x="769.7" y="613.0" font-size="9.8" fill="#000" stroke="#000" stroke-width="0.2" textLength="47.80" lengthAdjust="spacingAndGlyphs">1 Sep 2022</text>
<text class="t" x="833.9" y="613.0" font-size="9.8" fill="#000" stroke="#000" stroke-width="0.2" textLength="52.30" lengthAdjust="spacingAndGlyphs">13 Sep 2022</text>
<text class="t" x="897.6" y="613.0" font-size="9.8" fill="#000" stroke="#000" stroke-width="0.2" textLength="52.30" lengthAdjust="spacingAndGlyphs">23 Sep 2022</text>
<g shape-rendering="crispEdges">
<rect x="0" y="621" width="1208" height="1" fill="#e3e3e3"/>
<rect x="0" y="622" width="1208" height="1" fill="#f4f4f4"/>
<rect x="0" y="623" width="1208" height="1" fill="#000"/>
<rect x="0" y="624" width="1208" height="19" fill="#f0f0f0"/>
<rect x="0" y="643" width="1208" height="1" fill="#fafafa"/>
<rect x="0" y="644" width="1208" height="2" fill="#f0f0f0"/>
<rect x="0" y="646" width="1208" height="2" fill="#a0a0a0"/>
<rect x="536" y="623" width="112" height="19" fill="#000"/>
<rect x="537" y="622" width="110" height="19" fill="#fff"/>
<rect x="104" y="626" width="1" height="14" fill="#6d6d6d"/>
<rect x="213" y="626" width="1" height="14" fill="#6d6d6d"/>
<rect x="321" y="626" width="1" height="14" fill="#6d6d6d"/>
<rect x="429" y="626" width="1" height="14" fill="#6d6d6d"/>
<rect x="724" y="626" width="1" height="14" fill="#6d6d6d"/>
<rect x="817" y="626" width="1" height="14" fill="#6d6d6d"/>
<rect x="909" y="626" width="1" height="14" fill="#6d6d6d"/>
<rect x="1000" y="626" width="1" height="14" fill="#6d6d6d"/>
<rect x="1108" y="626" width="1" height="14" fill="#6d6d6d"/>
</g>
<text class="t" x="14.5" y="638.0" font-size="12.5" fill="#707070" textLength="78.90" lengthAdjust="spacingAndGlyphs">USDX,Weekly</text>
<text class="t" x="114.6" y="638.0" font-size="12.5" fill="#707070" textLength="85.90" lengthAdjust="spacingAndGlyphs">EURUSD-,Daily</text>
<text class="t" x="221.4" y="638.0" font-size="12.5" fill="#707070" textLength="88.00" lengthAdjust="spacingAndGlyphs">AUDUSD-,Daily</text>
<text class="t" x="331.5" y="638.0" font-size="12.5" fill="#707070" textLength="85.10" lengthAdjust="spacingAndGlyphs">USDCHF-,Daily</text>
<text class="t" x="438.5" y="638.0" font-size="12.5" fill="#707070" textLength="86.90" lengthAdjust="spacingAndGlyphs">USDCAD-,Daily</text>
<text class="t" x="657.5" y="638.0" font-size="12.5" fill="#707070" textLength="55.60" lengthAdjust="spacingAndGlyphs">HK50-,H1</text>
<text class="t" x="733.4" y="638.0" font-size="12.5" fill="#707070" textLength="72.00" lengthAdjust="spacingAndGlyphs">EURCHF-,H1</text>
<text class="t" x="827.0" y="638.0" font-size="12.5" fill="#707070" textLength="69.80" lengthAdjust="spacingAndGlyphs">USOil-,Daily</text>
<text class="t" x="918.2" y="638.0" font-size="12.5" fill="#707070" textLength="70.40" lengthAdjust="spacingAndGlyphs">UKOil-,Daily</text>
<text class="t" x="1010.1" y="638.0" font-size="12.5" fill="#707070" textLength="87.20" lengthAdjust="spacingAndGlyphs">XAUUSD-,Daily</text>
<text class="t" x="1118.3" y="638.0" font-size="12.5" fill="#707070" textLength="57.30" lengthAdjust="spacingAndGlyphs">UKOil-,Da</text>
<text class="t" x="547.5" y="638.0" font-size="12.5" fill="#000" textLength="88.60" lengthAdjust="spacingAndGlyphs">USDCNH-,Daily</text>
<rect x="1176" y="624" width="32" height="19" fill="#f0f0f0"/>
<path d="M1185 629.5 L1185 636 L1181.2 632.75 Z" fill="#a0a0a0"/>
<path d="M1200 629 L1200 637 L1204 633 Z" fill="#000"/>
</svg></body></html>
